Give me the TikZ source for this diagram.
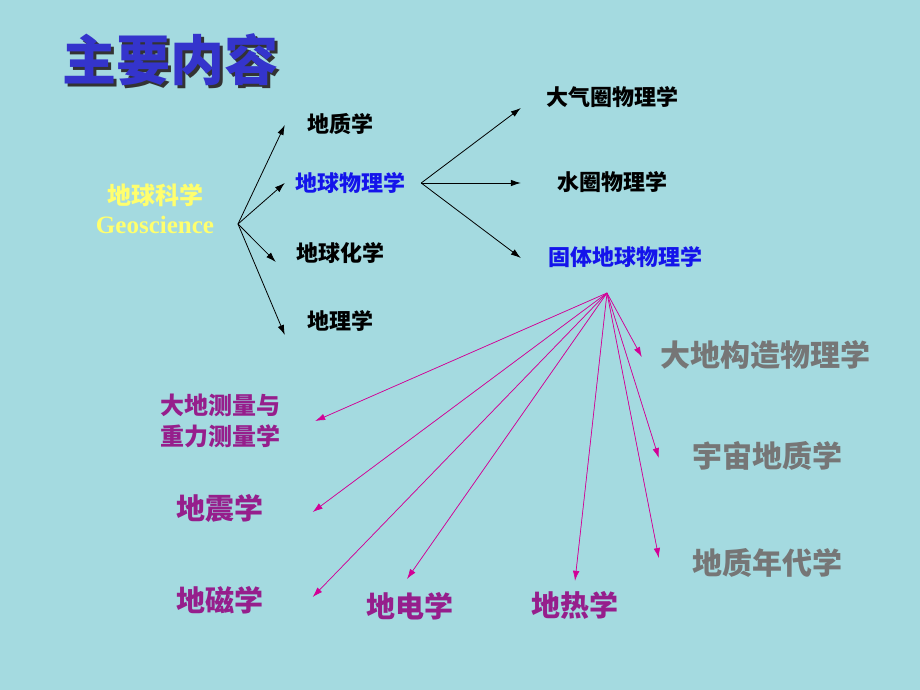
\documentclass[tikz,border=0pt]{standalone}
\usepackage{fontspec}
\setmainfont{Liberation Serif}
\newfontfamily\cjk{Noto Sans CJK SC}
\usetikzlibrary{arrows.meta,positioning,calc}

\definecolor{bgcyan}{RGB}{164,218,224}
\definecolor{titleblue}{RGB}{52,52,204}
\definecolor{linkblue}{RGB}{20,20,235}
\definecolor{geoyellow}{RGB}{255,255,110}
\definecolor{textmag}{RGB}{150,30,140}
\definecolor{arrowmag}{RGB}{210,0,150}
\definecolor{textgray}{RGB}{118,118,118}

\begin{document}
\begin{tikzpicture}[x=1pt,y=-1pt,inner sep=2pt,
lvlone/.style={font=\cjk\bfseries\fontsize{22}{26}\selectfont,text=black},
lvlmag/.style={font=\cjk\bfseries\fontsize{29}{33}\selectfont,text=textmag},
lvlgray/.style={font=\cjk\bfseries\fontsize{30}{34}\selectfont,text=textgray}]

\tikzset{fleche/.style={-{Latex[length=10pt,width=6.5pt]},black,line width=0.8pt},
         flechemag/.style={fleche,draw=arrowmag,fill=arrowmag,line width=0.7pt}}

\useasboundingbox[fill=bgcyan] (0,0) rectangle (920,690);

% titre (avec ombre)
\node[font=\cjk\bfseries\fontsize{54}{60}\selectfont,text=titleblue] (titre) at (170,61)
  {\makebox[0pt][l]{\hspace{3pt}\raisebox{-3pt}{\color{black!80}主要内容}}主要内容};

% racine
\node[font=\cjk\bfseries\fontsize{24}{28}\selectfont,text=geoyellow] (geo) at (155,195) {地球科学};
\node[font=\bfseries\fontsize{25}{28}\selectfont,text=geoyellow,below=5pt of geo] (geoen) {Geoscience};
\coordinate (hubA) at (238,224);

% premier niveau
\node[lvlone] (dizhi) at (340,124) {地质学};
\node[lvlone,text=linkblue] (wuli) at (350,183) {地球物理学};
\node[lvlone] (huaxue) at (340,253) {地球化学};
\node[lvlone] (dili) at (340,321) {地理学};

\draw[fleche] (hubA) -- ([shift={(-20,1)}]dizhi.west);
\draw[fleche] (hubA) -- ([shift={(-8,0)}]wuli.west);
\draw[fleche] (hubA) -- ([shift={(-18,9)}]huaxue.west);
\draw[fleche] (hubA) -- ([shift={(-20,14)}]dili.west);

% geophysique
\coordinate (hubB) at ($(wuli.east)+(14,0)$);
\node[lvlone] (daqi) at (612,97) {大气圈物理学};
\node[lvlone] (shuiquan) at (612,182) {水圈物理学};
\node[lvlone,text=linkblue] (guti) at (625,257) {固体地球物理学};

\draw[fleche] (hubB) -- ([shift={(-23,11)}]daqi.west);
\draw[fleche] (hubB) -- ([shift={(-34,1)}]shuiquan.west);
\draw[fleche] (hubB) -- ([shift={(-25,1)}]guti.west);

% terre solide
\coordinate (hubC) at (607,293);
\node[font=\cjk\bfseries\fontsize{24}{31}\selectfont,text=textmag,align=center] (celeste) at (220,421) {大地测量与\\重力测量学};
\node[lvlmag] (dizhen) at (220,508) {地震学};
\node[lvlmag] (dici) at (220,600) {地磁学};
\node[lvlmag] (didian) at (410,606) {地电学};
\node[lvlmag] (dire) at (575,605) {地热学};
\node[lvlgray] (gouzao) at (765,355) {大地构造物理学};
\node[lvlgray] (yuzhou) at (767,456) {宇宙地质学};
\node[lvlgray] (niandai) at (767,563) {地质年代学};

\draw[flechemag] (hubC) -- ([shift={(33,0)}]celeste.east);
\draw[flechemag] (hubC) -- ([shift={(47,4)}]dizhen.east);
\draw[flechemag] (hubC) -- ([shift={(47,-3)}]dici.east);
\draw[flechemag] (hubC) -- ([shift={(-3,-11)}]didian.north);
\draw[flechemag] (hubC) -- ([shift={(0,-8)}]dire.north);
\draw[flechemag] (hubC) -- ([shift={(-16,2)}]gouzao.west);
\draw[flechemag] (hubC) -- ([shift={(-31,2)}]yuzhou.west);
\draw[flechemag] (hubC) -- ([shift={(-31,-5)}]niandai.west);
\end{tikzpicture}
\end{document}
